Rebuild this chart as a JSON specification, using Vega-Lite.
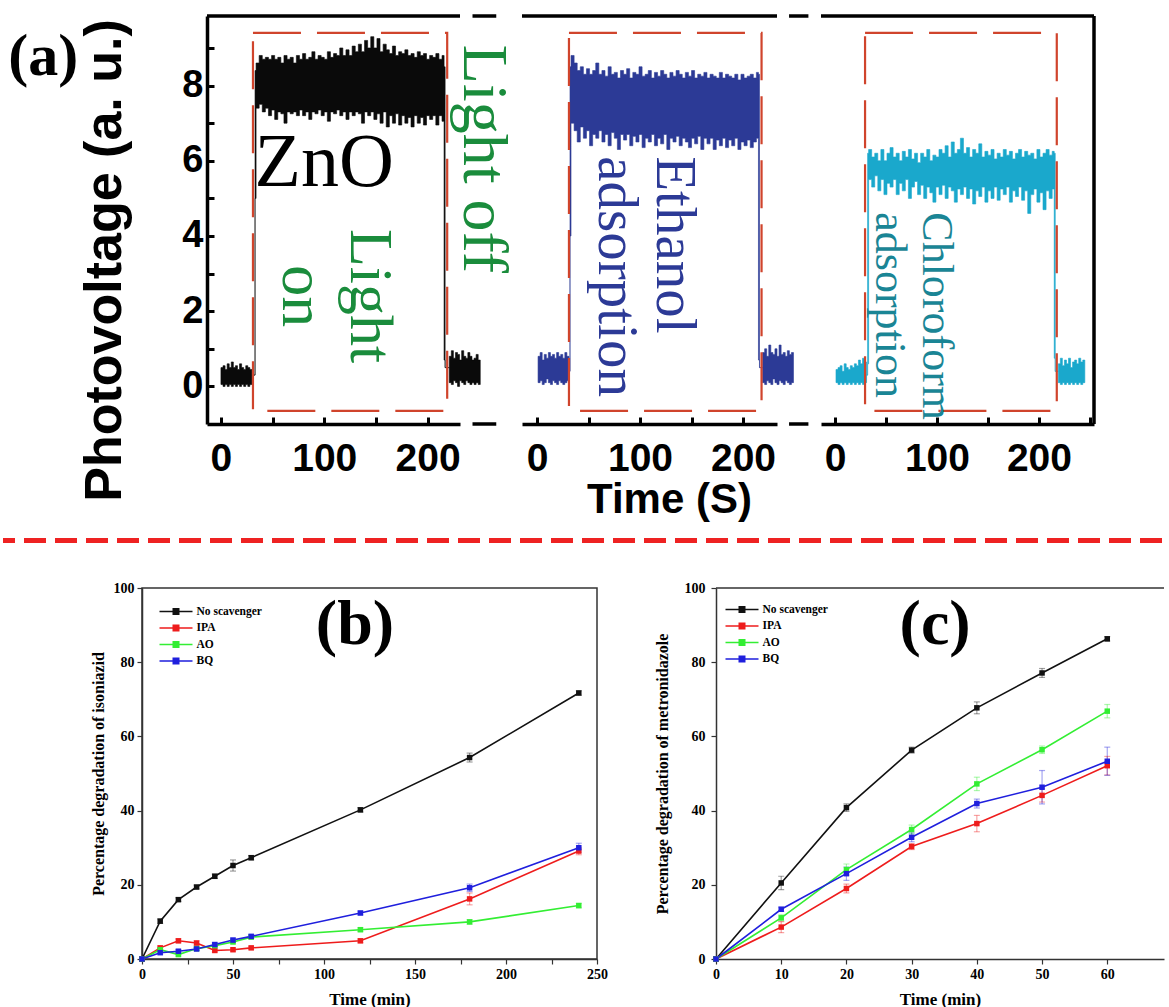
{
  "$schema": "https://vega.github.io/schema/vega-lite/v6.json",
  "padding": {"left": 0, "top": 14, "right": 0, "bottom": 0},
  "background": "white",
  "config": {"view": {"stroke": null}, "axis": {"grid": false}},
  "datasets": {
    "zno": [
      {"t":0,"lo":0.05,"hi":0.5},{"t":2,"lo":0.0,"hi":0.55},{"t":4,"lo":0.05,"hi":0.45},{"t":6,"lo":0.0,"hi":0.6},{"t":8,"lo":0.05,"hi":0.5},{"t":10,"lo":0.0,"hi":0.65},{"t":12,"lo":0.05,"hi":0.5},{"t":14,"lo":0.0,"hi":0.55},{"t":16,"lo":0.05,"hi":0.45},{"t":18,"lo":0.0,"hi":0.6},{"t":20,"lo":0.05,"hi":0.5},{"t":22,"lo":0.0,"hi":0.45},{"t":24,"lo":0.05,"hi":0.55},{"t":26,"lo":0.0,"hi":0.5},{"t":28,"lo":0.05,"hi":0.45},{"t":30,"lo":0.3,"hi":0.3},
      {"t":33,"lo":5.0,"hi":8.4},
      {"t":34,"lo":7.4,"hi":8.6},{"t":37,"lo":7.5,"hi":8.8},{"t":40,"lo":7.3,"hi":8.7},{"t":43,"lo":7.4,"hi":8.75},{"t":46,"lo":7.2,"hi":8.7},{"t":49,"lo":7.35,"hi":8.8},{"t":52,"lo":7.1,"hi":8.7},{"t":55,"lo":7.3,"hi":8.75},{"t":58,"lo":7.25,"hi":8.6},{"t":61,"lo":7.0,"hi":8.8},{"t":64,"lo":7.3,"hi":8.7},{"t":67,"lo":7.25,"hi":8.75},{"t":70,"lo":7.3,"hi":8.6},{"t":73,"lo":7.2,"hi":8.8},{"t":76,"lo":7.35,"hi":8.7},{"t":79,"lo":7.2,"hi":8.85},{"t":82,"lo":7.3,"hi":8.7},{"t":85,"lo":7.1,"hi":8.75},{"t":88,"lo":7.3,"hi":8.9},{"t":91,"lo":7.25,"hi":8.7},{"t":94,"lo":7.35,"hi":8.8},{"t":97,"lo":7.2,"hi":8.75},{"t":100,"lo":7.3,"hi":8.7},{"t":103,"lo":7.05,"hi":8.9},{"t":106,"lo":7.3,"hi":8.75},{"t":109,"lo":7.25,"hi":8.85},{"t":112,"lo":7.35,"hi":8.8},{"t":115,"lo":7.2,"hi":9.0},{"t":118,"lo":7.3,"hi":8.8},{"t":121,"lo":7.1,"hi":8.95},{"t":124,"lo":7.3,"hi":8.8},{"t":127,"lo":7.2,"hi":9.05},{"t":130,"lo":7.3,"hi":8.9},{"t":133,"lo":7.25,"hi":9.1},{"t":136,"lo":7.0,"hi":8.9},{"t":139,"lo":7.3,"hi":9.2},{"t":142,"lo":7.2,"hi":9.0},{"t":145,"lo":7.3,"hi":9.3},{"t":148,"lo":7.1,"hi":9.0},{"t":151,"lo":7.25,"hi":9.25},{"t":154,"lo":7.0,"hi":8.9},{"t":157,"lo":7.3,"hi":9.1},{"t":160,"lo":6.9,"hi":8.95},{"t":163,"lo":7.2,"hi":8.85},{"t":166,"lo":7.0,"hi":9.05},{"t":169,"lo":7.25,"hi":8.8},{"t":172,"lo":6.95,"hi":8.9},{"t":175,"lo":7.2,"hi":8.85},{"t":178,"lo":7.0,"hi":8.95},{"t":181,"lo":7.15,"hi":8.8},{"t":184,"lo":6.9,"hi":8.85},{"t":187,"lo":7.2,"hi":8.75},{"t":190,"lo":7.0,"hi":8.9},{"t":193,"lo":7.15,"hi":8.8},{"t":196,"lo":6.95,"hi":8.85},{"t":199,"lo":7.2,"hi":8.7},{"t":202,"lo":7.1,"hi":8.8},{"t":205,"lo":7.2,"hi":8.75},{"t":208,"lo":6.95,"hi":8.85},{"t":211,"lo":7.2,"hi":8.7},{"t":214,"lo":7.05,"hi":8.8},
      {"t":216,"lo":0.7,"hi":8.5},{"t":217,"lo":0.5,"hi":0.5},
      {"t":221,"lo":0.1,"hi":0.8},{"t":223,"lo":0.05,"hi":0.95},{"t":225,"lo":0.15,"hi":0.75},{"t":227,"lo":0.1,"hi":0.9},{"t":229,"lo":0.0,"hi":0.85},{"t":231,"lo":0.15,"hi":0.7},{"t":233,"lo":0.1,"hi":0.95},{"t":235,"lo":0.05,"hi":0.8},{"t":237,"lo":0.15,"hi":0.75},{"t":239,"lo":0.1,"hi":0.9},{"t":241,"lo":0.05,"hi":0.8},{"t":243,"lo":0.1,"hi":0.7},{"t":245,"lo":0.05,"hi":0.75},{"t":247,"lo":0.1,"hi":0.85},{"t":249,"lo":0.05,"hi":0.7},{"t":251,"lo":0.05,"hi":0.7}
    ],
    "eth": [
      {"t":1,"lo":0.1,"hi":0.8},{"t":3,"lo":0.15,"hi":0.9},{"t":5,"lo":0.05,"hi":0.7},{"t":7,"lo":0.1,"hi":0.85},{"t":9,"lo":0.2,"hi":0.75},{"t":11,"lo":0.1,"hi":0.9},{"t":13,"lo":0.05,"hi":0.8},{"t":15,"lo":0.15,"hi":0.85},{"t":17,"lo":0.1,"hi":0.75},{"t":19,"lo":0.05,"hi":0.9},{"t":21,"lo":0.15,"hi":0.8},{"t":23,"lo":0.1,"hi":0.85},{"t":25,"lo":0.05,"hi":0.75},{"t":27,"lo":0.1,"hi":0.9},{"t":29,"lo":0.15,"hi":0.8},{"t":31,"lo":0.4,"hi":0.4},
      {"t":32,"lo":4.0,"hi":8.5},
      {"t":33,"lo":7.0,"hi":8.8},{"t":36,"lo":6.8,"hi":8.6},{"t":39,"lo":6.5,"hi":8.4},{"t":42,"lo":6.9,"hi":8.5},{"t":45,"lo":6.6,"hi":8.3},{"t":48,"lo":6.8,"hi":8.45},{"t":51,"lo":6.4,"hi":8.3},{"t":54,"lo":6.7,"hi":8.4},{"t":57,"lo":6.6,"hi":8.6},{"t":60,"lo":6.8,"hi":8.3},{"t":63,"lo":6.5,"hi":8.4},{"t":66,"lo":6.7,"hi":8.25},{"t":69,"lo":6.4,"hi":8.5},{"t":72,"lo":6.75,"hi":8.3},{"t":75,"lo":6.6,"hi":8.35},{"t":78,"lo":6.3,"hi":8.2},{"t":81,"lo":6.7,"hi":8.4},{"t":84,"lo":6.55,"hi":8.3},{"t":87,"lo":6.7,"hi":8.45},{"t":90,"lo":6.4,"hi":8.2},{"t":93,"lo":6.65,"hi":8.35},{"t":96,"lo":6.5,"hi":8.3},{"t":99,"lo":6.7,"hi":8.5},{"t":102,"lo":6.35,"hi":8.25},{"t":105,"lo":6.6,"hi":8.3},{"t":108,"lo":6.5,"hi":8.4},{"t":111,"lo":6.7,"hi":8.2},{"t":114,"lo":6.4,"hi":8.35},{"t":117,"lo":6.6,"hi":8.25},{"t":120,"lo":6.45,"hi":8.4},{"t":123,"lo":6.7,"hi":8.3},{"t":126,"lo":6.3,"hi":8.2},{"t":129,"lo":6.6,"hi":8.35},{"t":132,"lo":6.5,"hi":8.25},{"t":135,"lo":6.65,"hi":8.4},{"t":138,"lo":6.4,"hi":8.3},{"t":141,"lo":6.6,"hi":8.2},{"t":144,"lo":6.5,"hi":8.35},{"t":147,"lo":6.35,"hi":8.25},{"t":150,"lo":6.6,"hi":8.4},{"t":153,"lo":6.45,"hi":8.2},{"t":156,"lo":6.65,"hi":8.3},{"t":159,"lo":6.3,"hi":8.25},{"t":162,"lo":6.6,"hi":8.35},{"t":165,"lo":6.45,"hi":8.2},{"t":168,"lo":6.6,"hi":8.3},{"t":171,"lo":6.3,"hi":8.25},{"t":174,"lo":6.55,"hi":8.2},{"t":177,"lo":6.4,"hi":8.35},{"t":180,"lo":6.6,"hi":8.2},{"t":183,"lo":6.35,"hi":8.3},{"t":186,"lo":6.55,"hi":8.25},{"t":189,"lo":6.4,"hi":8.2},{"t":192,"lo":6.6,"hi":8.3},{"t":195,"lo":6.3,"hi":8.15},{"t":198,"lo":6.5,"hi":8.3},{"t":201,"lo":6.4,"hi":8.2},{"t":204,"lo":6.55,"hi":8.25},{"t":207,"lo":6.35,"hi":8.3},{"t":210,"lo":6.5,"hi":8.2},{"t":213,"lo":6.6,"hi":8.35},
      {"t":215,"lo":0.7,"hi":8.3},{"t":216,"lo":0.5,"hi":0.5},
      {"t":219,"lo":0.1,"hi":0.9},{"t":221,"lo":0.05,"hi":1.0},{"t":223,"lo":0.15,"hi":0.8},{"t":225,"lo":0.1,"hi":1.1},{"t":227,"lo":0.05,"hi":0.9},{"t":229,"lo":0.2,"hi":0.85},{"t":231,"lo":0.1,"hi":1.0},{"t":233,"lo":0.05,"hi":0.8},{"t":235,"lo":0.15,"hi":1.1},{"t":237,"lo":0.1,"hi":0.85},{"t":239,"lo":0.05,"hi":0.9},{"t":241,"lo":0.15,"hi":0.8},{"t":243,"lo":0.1,"hi":0.95},{"t":245,"lo":0.05,"hi":0.85},{"t":247,"lo":0.1,"hi":0.9},{"t":249,"lo":0.1,"hi":0.9}
    ],
    "chl": [
      {"t":1,"lo":0.1,"hi":0.45},{"t":3,"lo":0.05,"hi":0.5},{"t":5,"lo":0.1,"hi":0.55},{"t":7,"lo":0.05,"hi":0.4},{"t":9,"lo":0.1,"hi":0.6},{"t":11,"lo":0.05,"hi":0.5},{"t":13,"lo":0.1,"hi":0.45},{"t":15,"lo":0.05,"hi":0.55},{"t":17,"lo":0.1,"hi":0.5},{"t":19,"lo":0.05,"hi":0.6},{"t":21,"lo":0.1,"hi":0.55},{"t":23,"lo":0.05,"hi":0.7},{"t":25,"lo":0.1,"hi":0.6},{"t":27,"lo":0.05,"hi":0.75},{"t":29,"lo":0.1,"hi":0.65},{"t":31,"lo":0.3,"hi":0.3},
      {"t":32,"lo":0.6,"hi":6.2},
      {"t":33,"lo":5.5,"hi":6.3},{"t":36,"lo":5.3,"hi":6.1},{"t":39,"lo":5.6,"hi":6.2},{"t":42,"lo":5.2,"hi":6.0},{"t":45,"lo":5.5,"hi":6.3},{"t":48,"lo":5.1,"hi":6.0},{"t":51,"lo":5.4,"hi":6.2},{"t":54,"lo":5.3,"hi":6.35},{"t":57,"lo":5.5,"hi":6.1},{"t":60,"lo":5.1,"hi":6.2},{"t":63,"lo":5.4,"hi":6.0},{"t":66,"lo":5.2,"hi":6.25},{"t":69,"lo":5.5,"hi":6.1},{"t":72,"lo":5.0,"hi":6.3},{"t":75,"lo":5.3,"hi":6.05},{"t":78,"lo":5.45,"hi":6.2},{"t":81,"lo":5.1,"hi":5.95},{"t":84,"lo":5.35,"hi":6.2},{"t":87,"lo":5.0,"hi":6.1},{"t":90,"lo":5.3,"hi":6.3},{"t":93,"lo":5.15,"hi":6.0},{"t":96,"lo":4.9,"hi":6.15},{"t":99,"lo":5.3,"hi":6.1},{"t":102,"lo":5.1,"hi":6.3},{"t":105,"lo":5.35,"hi":6.2},{"t":108,"lo":5.0,"hi":6.4},{"t":111,"lo":5.3,"hi":6.1},{"t":114,"lo":5.2,"hi":6.5},{"t":117,"lo":4.9,"hi":6.2},{"t":120,"lo":5.25,"hi":6.3},{"t":123,"lo":5.1,"hi":6.6},{"t":126,"lo":5.3,"hi":6.2},{"t":129,"lo":5.0,"hi":6.35},{"t":132,"lo":5.25,"hi":6.1},{"t":135,"lo":4.85,"hi":6.3},{"t":138,"lo":5.2,"hi":6.2},{"t":141,"lo":5.05,"hi":6.45},{"t":144,"lo":5.3,"hi":6.1},{"t":147,"lo":4.9,"hi":6.25},{"t":150,"lo":5.2,"hi":6.15},{"t":153,"lo":5.0,"hi":6.3},{"t":156,"lo":5.3,"hi":6.05},{"t":159,"lo":4.95,"hi":6.2},{"t":162,"lo":5.25,"hi":6.1},{"t":165,"lo":5.1,"hi":6.3},{"t":168,"lo":5.3,"hi":6.15},{"t":171,"lo":4.9,"hi":6.25},{"t":174,"lo":5.2,"hi":6.05},{"t":177,"lo":5.05,"hi":6.2},{"t":180,"lo":5.3,"hi":6.3},{"t":183,"lo":4.95,"hi":6.1},{"t":186,"lo":5.2,"hi":6.25},{"t":189,"lo":4.6,"hi":6.15},{"t":192,"lo":5.1,"hi":6.2},{"t":195,"lo":5.25,"hi":6.05},{"t":198,"lo":4.9,"hi":6.3},{"t":201,"lo":5.15,"hi":6.1},{"t":204,"lo":4.7,"hi":6.2},{"t":207,"lo":5.2,"hi":6.3},{"t":210,"lo":5.0,"hi":6.15},{"t":213,"lo":5.25,"hi":6.25},
      {"t":215,"lo":0.75,"hi":6.2},{"t":216,"lo":0.4,"hi":0.4},
      {"t":219,"lo":0.1,"hi":0.6},{"t":221,"lo":0.05,"hi":0.75},{"t":223,"lo":0.1,"hi":0.55},{"t":225,"lo":0.05,"hi":0.7},{"t":227,"lo":0.1,"hi":0.6},{"t":229,"lo":0.05,"hi":0.75},{"t":231,"lo":0.1,"hi":0.5},{"t":233,"lo":0.05,"hi":0.65},{"t":235,"lo":0.1,"hi":0.7},{"t":237,"lo":0.05,"hi":0.6},{"t":239,"lo":0.1,"hi":0.75},{"t":241,"lo":0.05,"hi":0.65},{"t":243,"lo":0.1,"hi":0.7},{"t":245,"lo":0.1,"hi":0.7}
    ],
    "iso": [
      {"time":0,"series":"No scavenger","v":0,"e":0},{"time":10,"series":"No scavenger","v":10.2,"e":0.6},{"time":20,"series":"No scavenger","v":16.0,"e":0.5},{"time":30,"series":"No scavenger","v":19.4,"e":0.5},{"time":40,"series":"No scavenger","v":22.3,"e":0.6},{"time":50,"series":"No scavenger","v":25.2,"e":1.5},{"time":60,"series":"No scavenger","v":27.3,"e":0.6},{"time":120,"series":"No scavenger","v":40.2,"e":0.6},{"time":180,"series":"No scavenger","v":54.3,"e":1.2},{"time":240,"series":"No scavenger","v":71.7,"e":0.6},
      {"time":0,"series":"IPA","v":0,"e":0},{"time":10,"series":"IPA","v":3.0,"e":0.5},{"time":20,"series":"IPA","v":4.9,"e":0.5},{"time":30,"series":"IPA","v":4.3,"e":0.6},{"time":40,"series":"IPA","v":2.3,"e":0.4},{"time":50,"series":"IPA","v":2.5,"e":0.4},{"time":60,"series":"IPA","v":3.0,"e":0.4},{"time":120,"series":"IPA","v":4.9,"e":0.5},{"time":180,"series":"IPA","v":16.2,"e":1.6},{"time":240,"series":"IPA","v":29.1,"e":1.0},
      {"time":0,"series":"AO","v":0,"e":0},{"time":10,"series":"AO","v":2.5,"e":0.5},{"time":20,"series":"AO","v":1.2,"e":0.4},{"time":30,"series":"AO","v":2.8,"e":0.4},{"time":40,"series":"AO","v":3.6,"e":0.4},{"time":50,"series":"AO","v":4.6,"e":0.5},{"time":60,"series":"AO","v":5.9,"e":0.4},{"time":120,"series":"AO","v":7.9,"e":0.5},{"time":180,"series":"AO","v":10.0,"e":0.6},{"time":240,"series":"AO","v":14.4,"e":0.6},
      {"time":0,"series":"BQ","v":0,"e":0},{"time":10,"series":"BQ","v":1.7,"e":0.4},{"time":20,"series":"BQ","v":2.1,"e":0.4},{"time":30,"series":"BQ","v":2.7,"e":0.4},{"time":40,"series":"BQ","v":3.9,"e":0.5},{"time":50,"series":"BQ","v":5.1,"e":0.5},{"time":60,"series":"BQ","v":6.1,"e":0.5},{"time":120,"series":"BQ","v":12.4,"e":0.5},{"time":180,"series":"BQ","v":19.2,"e":1.0},{"time":240,"series":"BQ","v":30.0,"e":1.2}
    ],
    "met": [
      {"time":0,"series":"No scavenger","v":0,"e":0},{"time":10,"series":"No scavenger","v":20.5,"e":1.8},{"time":20,"series":"No scavenger","v":40.8,"e":1.0},{"time":30,"series":"No scavenger","v":56.3,"e":0.8},{"time":40,"series":"No scavenger","v":67.7,"e":1.6},{"time":50,"series":"No scavenger","v":77.1,"e":1.2},{"time":60,"series":"No scavenger","v":86.3,"e":0.6},
      {"time":0,"series":"IPA","v":0,"e":0},{"time":10,"series":"IPA","v":8.6,"e":1.5},{"time":20,"series":"IPA","v":19.0,"e":1.2},{"time":30,"series":"IPA","v":30.3,"e":0.8},{"time":40,"series":"IPA","v":36.5,"e":2.2},{"time":50,"series":"IPA","v":44.1,"e":1.8},{"time":60,"series":"IPA","v":52.1,"e":2.5},
      {"time":0,"series":"AO","v":0,"e":0},{"time":10,"series":"AO","v":11.1,"e":0.8},{"time":20,"series":"AO","v":24.1,"e":1.5},{"time":30,"series":"AO","v":34.9,"e":1.2},{"time":40,"series":"AO","v":47.2,"e":1.8},{"time":50,"series":"AO","v":56.4,"e":1.0},{"time":60,"series":"AO","v":66.8,"e":1.8},
      {"time":0,"series":"BQ","v":0,"e":0},{"time":10,"series":"BQ","v":13.4,"e":0.6},{"time":20,"series":"BQ","v":23.0,"e":1.8},{"time":30,"series":"BQ","v":32.8,"e":1.2},{"time":40,"series":"BQ","v":41.9,"e":1.2},{"time":50,"series":"BQ","v":46.3,"e":4.5},{"time":60,"series":"BQ","v":53.3,"e":3.8}
    ]
  },
  "spacing": 0,
  "vconcat": [
    {
      "bounds": "flush",
      "spacing": 0,
      "hconcat": [
        {"width": 204, "height": 408, "data": {"values": [{}]}, "mark": {"type": "text", "text": ""}, "encoding": {}},
        {
          "width": 253, "height": 408,
          "layer": [
            {
              "data": {"name": "zno"},
              "mark": {"type": "area", "interpolate": "step-after", "color": "#0a0a0a", "stroke": "#0a0a0a", "strokeWidth": 0.6},
              "encoding": {
                "x": {"field": "t", "type": "quantitative", "scale": {"domain": [-13.5, 231.4], "nice": false, "zero": false},
                  "axis": {"values": [0, 50, 100, 150, 200], "labelExpr": "datum.value % 100 === 0 ? datum.label : ''", "title": null,
                    "domainColor": "#000", "domainWidth": 3.5, "tickColor": "#000", "tickWidth": 3, "tickSize": -7,
                    "labelFont": "Liberation Sans", "labelFontWeight": "bold", "labelFontSize": 39, "labelColor": "#000", "labelPadding": 22, "labelOverlap": false, "labelFlush": false}},
                "y": {"field": "hi", "type": "quantitative", "scale": {"domain": [-1, 9.85], "nice": false, "zero": false},
                  "axis": {"values": [0, 1, 2, 3, 4, 5, 6, 7, 8, 9], "labelExpr": "datum.value % 2 === 0 ? datum.label : ''",
                    "title": "Photovoltage (a. u.)", "titleFont": "Liberation Sans", "titleFontWeight": "bold", "titleFontSize": 52, "titleColor": "#000",
                    "titleX": -103, "titleY": 244, "titleAngle": -90, "titleAlign": "center", "titleBaseline": "middle",
                    "domainColor": "#000", "domainWidth": 3.5, "tickColor": "#000", "tickWidth": 3, "tickSize": -7,
                    "labelFont": "Liberation Sans", "labelFontWeight": "bold", "labelFontSize": 38, "labelColor": "#000", "labelPadding": 11, "labelOverlap": false, "labelFlush": false}},
                "y2": {"field": "lo"}
              }
            },
            {
              "data": {"values": [{"on": 31, "off": 219}]},
              "mark": {"type": "rect", "filled": false, "fill": null, "stroke": "#d0442c", "strokeWidth": 2.2, "strokeDash": [48, 16]},
              "encoding": {
                "x": {"field": "on", "type": "quantitative", "scale": {"domain": [-13.5, 231.4], "nice": false, "zero": false}},
                "x2": {"field": "off"},
                "y": {"datum": -0.65, "type": "quantitative", "scale": {"domain": [-1, 9.85], "nice": false, "zero": false}},
                "y2": {"datum": 9.4}
              }
            },
            {
              "data": {"values": [{}]},
              "mark": {"type": "rule", "color": "#000", "strokeWidth": 3.5},
              "encoding": {"y": {"datum": 9.85, "type": "quantitative", "scale": {"domain": [-1, 9.85], "nice": false, "zero": false}}}
            },
            {
              "data": {"values": [{}]},
              "mark": {"type": "rule", "color": "#000", "strokeWidth": 3.5},
              "encoding": {
                "x": {"datum": 243.5, "type": "quantitative", "scale": {"domain": [-13.5, 231.4], "nice": false, "zero": false}},
                "x2": {"datum": 266.5},
                "y": {"datum": 9.85, "type": "quantitative", "scale": {"domain": [-1, 9.85], "nice": false, "zero": false}}
              }
            },
            {
              "data": {"values": [{}]},
              "mark": {"type": "rule", "color": "#000", "strokeWidth": 3.5},
              "encoding": {
                "x": {"datum": 243.5, "type": "quantitative", "scale": {"domain": [-13.5, 231.4], "nice": false, "zero": false}},
                "x2": {"datum": 266.5},
                "y": {"datum": -1, "type": "quantitative", "scale": {"domain": [-1, 9.85], "nice": false, "zero": false}}
              }
            },
            {
              "data": {"values": [{}]},
              "mark": {"type": "text", "text": "(a)", "font": "Liberation Serif", "fontWeight": "bold", "fontSize": 60, "color": "#000", "align": "center", "baseline": "middle"},
              "encoding": {
                "x": {"datum": -172, "type": "quantitative", "scale": {"domain": [-13.5, 231.4], "nice": false, "zero": false}},
                "y": {"datum": 8.75, "type": "quantitative", "scale": {"domain": [-1, 9.85], "nice": false, "zero": false}}
              }
            },
            {
              "data": {"values": [{}]},
              "mark": {"type": "text", "text": "ZnO", "font": "Liberation Serif", "fontSize": 76, "color": "#000", "align": "center", "baseline": "middle"},
              "encoding": {
                "x": {"datum": 100, "type": "quantitative", "scale": {"domain": [-13.5, 231.4], "nice": false, "zero": false}},
                "y": {"datum": 5.93, "type": "quantitative", "scale": {"domain": [-1, 9.85], "nice": false, "zero": false}}
              }
            },
            {
              "data": {"values": [{}]},
              "mark": {"type": "text", "text": ["Light", "on"], "font": "Liberation Serif", "fontSize": 62, "lineHeight": 68, "color": "#1a8c3c", "align": "center", "baseline": "middle", "angle": 90},
              "encoding": {
                "x": {"datum": 144, "type": "quantitative", "scale": {"domain": [-13.5, 231.4], "nice": false, "zero": false}},
                "y": {"datum": 2.4, "type": "quantitative", "scale": {"domain": [-1, 9.85], "nice": false, "zero": false}}
              }
            },
            {
              "data": {"values": [{}]},
              "mark": {"type": "text", "text": "Light off", "font": "Liberation Serif", "fontSize": 64, "color": "#1a8c3c", "align": "center", "baseline": "middle", "angle": 90},
              "encoding": {
                "x": {"datum": 254, "type": "quantitative", "scale": {"domain": [-13.5, 231.4], "nice": false, "zero": false}},
                "y": {"datum": 6.05, "type": "quantitative", "scale": {"domain": [-1, 9.85], "nice": false, "zero": false}}
              }
            }
          ]
        },
        {"width": 62, "height": 408, "data": {"values": [{}]}, "mark": {"type": "text", "text": ""}, "encoding": {}},
        {
          "width": 255, "height": 408,
          "layer": [
            {
              "data": {"name": "eth"},
              "mark": {"type": "area", "interpolate": "step-after", "color": "#2c3a96", "stroke": "#2c3a96", "strokeWidth": 0.6},
              "encoding": {
                "x": {"field": "t", "type": "quantitative", "scale": {"domain": [-14.6, 233], "nice": false, "zero": false},
                  "axis": {"values": [0, 50, 100, 150, 200], "labelExpr": "datum.value % 100 === 0 ? datum.label : ''",
                    "title": "Time (S)", "titleFont": "Liberation Sans", "titleFontWeight": "bold", "titleFontSize": 42, "titleColor": "#000",
                    "titleX": 147, "titleY": 75, "titleAlign": "center", "titleBaseline": "middle",
                    "domainColor": "#000", "domainWidth": 3.5, "tickColor": "#000", "tickWidth": 3, "tickSize": -7,
                    "labelFont": "Liberation Sans", "labelFontWeight": "bold", "labelFontSize": 39, "labelColor": "#000", "labelPadding": 22, "labelOverlap": false, "labelFlush": false}},
                "y": {"field": "hi", "type": "quantitative", "scale": {"domain": [-1, 9.85], "nice": false, "zero": false}, "axis": null},
                "y2": {"field": "lo"}
              }
            },
            {
              "data": {"values": [{"on": 31, "off": 218}]},
              "mark": {"type": "rect", "filled": false, "fill": null, "stroke": "#d0442c", "strokeWidth": 2.2, "strokeDash": [48, 16]},
              "encoding": {
                "x": {"field": "on", "type": "quantitative", "scale": {"domain": [-14.6, 233], "nice": false, "zero": false}},
                "x2": {"field": "off"},
                "y": {"datum": -0.65, "type": "quantitative", "scale": {"domain": [-1, 9.85], "nice": false, "zero": false}, "axis": null},
                "y2": {"datum": 9.4}
              }
            },
            {
              "data": {"values": [{}]},
              "mark": {"type": "rule", "color": "#000", "strokeWidth": 3.5},
              "encoding": {"y": {"datum": 9.85, "type": "quantitative", "scale": {"domain": [-1, 9.85], "nice": false, "zero": false}, "axis": null}}
            },
            {
              "data": {"values": [{}]},
              "mark": {"type": "rule", "color": "#000", "strokeWidth": 3.5},
              "encoding": {
                "x": {"datum": 244.7, "type": "quantitative", "scale": {"domain": [-14.6, 233], "nice": false, "zero": false}},
                "x2": {"datum": 263.5},
                "y": {"datum": 9.85, "type": "quantitative", "scale": {"domain": [-1, 9.85], "nice": false, "zero": false}, "axis": null}
              }
            },
            {
              "data": {"values": [{}]},
              "mark": {"type": "rule", "color": "#000", "strokeWidth": 3.5},
              "encoding": {
                "x": {"datum": 244.7, "type": "quantitative", "scale": {"domain": [-14.6, 233], "nice": false, "zero": false}},
                "x2": {"datum": 263.5},
                "y": {"datum": -1, "type": "quantitative", "scale": {"domain": [-1, 9.85], "nice": false, "zero": false}, "axis": null}
              }
            },
            {
              "data": {"values": [{}]},
              "mark": {"type": "text", "text": ["Ethanol", "adsorption"], "font": "Liberation Serif", "fontSize": 57, "lineHeight": 58, "color": "#2c3a96", "align": "left", "baseline": "middle", "angle": 90},
              "encoding": {
                "x": {"datum": 133, "type": "quantitative", "scale": {"domain": [-14.6, 233], "nice": false, "zero": false}},
                "y": {"datum": 6.12, "type": "quantitative", "scale": {"domain": [-1, 9.85], "nice": false, "zero": false}, "axis": null}
              }
            }
          ]
        },
        {"width": 44, "height": 408, "data": {"values": [{}]}, "mark": {"type": "text", "text": ""}, "encoding": {}},
        {
          "width": 273, "height": 408,
          "layer": [
            {
              "data": {"name": "chl"},
              "mark": {"type": "area", "interpolate": "step-after", "color": "#1aa8cc", "stroke": "#1aa8cc", "strokeWidth": 0.6},
              "encoding": {
                "x": {"field": "t", "type": "quantitative", "scale": {"domain": [-13.7, 254], "nice": false, "zero": false},
                  "axis": {"values": [0, 50, 100, 150, 200, 250], "labelExpr": "datum.value % 100 === 0 ? datum.label : ''", "title": null,
                    "domainColor": "#000", "domainWidth": 3.5, "tickColor": "#000", "tickWidth": 3, "tickSize": -7,
                    "labelFont": "Liberation Sans", "labelFontWeight": "bold", "labelFontSize": 39, "labelColor": "#000", "labelPadding": 22, "labelOverlap": false, "labelFlush": false}},
                "y": {"field": "hi", "type": "quantitative", "scale": {"domain": [-1, 9.85], "nice": false, "zero": false}, "axis": null},
                "y2": {"field": "lo"}
              }
            },
            {
              "data": {"values": [{"on": 29.5, "off": 217.5}]},
              "mark": {"type": "rect", "filled": false, "fill": null, "stroke": "#d0442c", "strokeWidth": 2.2, "strokeDash": [48, 16]},
              "encoding": {
                "x": {"field": "on", "type": "quantitative", "scale": {"domain": [-13.7, 254], "nice": false, "zero": false}},
                "x2": {"field": "off"},
                "y": {"datum": -0.65, "type": "quantitative", "scale": {"domain": [-1, 9.85], "nice": false, "zero": false}, "axis": null},
                "y2": {"datum": 9.4}
              }
            },
            {
              "data": {"values": [{}]},
              "mark": {"type": "rule", "color": "#000", "strokeWidth": 3.5},
              "encoding": {"y": {"datum": 9.85, "type": "quantitative", "scale": {"domain": [-1, 9.85], "nice": false, "zero": false}, "axis": null}}
            },
            {
              "data": {"values": [{}]},
              "mark": {"type": "rule", "color": "#000", "strokeWidth": 3.5},
              "encoding": {"x": {"datum": 254, "type": "quantitative", "scale": {"domain": [-13.7, 254], "nice": false, "zero": false}}}
            },
            {
              "data": {"values": [{}]},
              "mark": {"type": "text", "text": ["Chloroform", "adsorption"], "font": "Liberation Serif", "fontSize": 44, "lineHeight": 47, "color": "#1a8595", "align": "left", "baseline": "middle", "angle": 90},
              "encoding": {
                "x": {"datum": 99, "type": "quantitative", "scale": {"domain": [-13.7, 254], "nice": false, "zero": false}},
                "y": {"datum": 4.63, "type": "quantitative", "scale": {"domain": [-1, 9.85], "nice": false, "zero": false}, "axis": null}
              }
            }
          ]
        }
      ]
    },
    {
      "width": 1159, "height": 59.5,
      "data": {"values": [{}]},
      "mark": {"type": "rule", "color": "#ee2222", "strokeWidth": 5, "strokeDash": [22, 9]},
      "encoding": {"y": {"datum": 0.655, "type": "quantitative", "scale": {"domain": [0, 1], "nice": false, "zero": false}, "axis": null}}
    },
    {
      "bounds": "flush",
      "spacing": 0,
      "resolve": {"legend": {"color": "independent"}},
      "hconcat": [
        {"width": 139, "height": 371, "data": {"values": [{}]}, "mark": {"type": "text", "text": ""}, "encoding": {}},
        {
          "width": 455, "height": 371,
          "view": {"stroke": "#333", "strokeWidth": 1.5},
          "layer": [
            {
              "data": {"name": "iso"},
              "mark": {"type": "errorbar", "ticks": {"size": 6}, "opacity": 0.4, "thickness": 1.2},
              "encoding": {
                "x": {"field": "time", "type": "quantitative", "scale": {"domain": [0, 250], "nice": false},
                  "axis": {"values": [0, 25, 50, 75, 100, 125, 150, 175, 200, 225, 250], "labelExpr": "datum.value % 50 === 0 ? datum.label : ''",
                    "title": "Time (min)", "titleFont": "Liberation Serif", "titleFontWeight": "bold", "titleFontSize": 17, "titleColor": "#000", "titlePadding": 10,
                    "labelFont": "Liberation Serif", "labelFontWeight": "bold", "labelFontSize": 14, "labelColor": "#000", "labelPadding": 3, "labelOverlap": false, "labelFlush": false,
                    "tickSize": 5, "tickColor": "#333", "tickWidth": 1.2, "domainColor": "#333", "domainWidth": 1.5}},
                "y": {"field": "v", "type": "quantitative", "scale": {"domain": [0, 100], "nice": false},
                  "axis": {"values": [0, 10, 20, 30, 40, 50, 60, 70, 80, 90, 100], "labelExpr": "datum.value % 20 === 0 ? datum.label : ''",
                    "title": "Percentage degradation of isoniazid", "titleFont": "Liberation Serif", "titleFontWeight": "bold", "titleFontSize": 16, "titleColor": "#000", "titlePadding": 7,
                    "labelFont": "Liberation Serif", "labelFontWeight": "bold", "labelFontSize": 14, "labelColor": "#000", "labelPadding": 3, "labelOverlap": false, "labelFlush": false,
                    "tickSize": 5, "tickColor": "#333", "tickWidth": 1.2, "domainColor": "#333", "domainWidth": 1.5}},
                "yError": {"field": "e"},
                "color": {"field": "series", "type": "nominal",
                  "scale": {"domain": ["No scavenger", "IPA", "AO", "BQ"], "range": ["#111111", "#ee1c1c", "#33ee33", "#1f1fdd"]},
                  "legend": {"title": null, "orient": "none", "legendX": 27.5, "legendY": 17, "padding": 0,
                    "symbolType": "M-3,0H3M-0.5,-0.5H0.5V0.5H-0.5Z", "symbolSize": 121, "symbolStrokeWidth": 1.5, "symbolOpacity": 1,
                    "labelFont": "Liberation Serif", "labelFontWeight": "bold", "labelFontSize": 11.5, "labelColor": "#000", "labelOffset": 14, "rowPadding": 3.5,
                    "encode": {"symbols": {"update": {"fill": {"scale": "color", "field": "value"}, "stroke": {"scale": "color", "field": "value"}, "opacity": {"value": 1}}}}}}
              }
            },
            {
              "data": {"name": "iso"},
              "mark": {"type": "line", "strokeWidth": 1.6},
              "encoding": {
                "x": {"field": "time", "type": "quantitative", "scale": {"domain": [0, 250], "nice": false}},
                "y": {"field": "v", "type": "quantitative", "scale": {"domain": [0, 100], "nice": false}},
                "color": {"field": "series", "type": "nominal", "scale": {"domain": ["No scavenger", "IPA", "AO", "BQ"], "range": ["#111111", "#ee1c1c", "#33ee33", "#1f1fdd"]}}
              }
            },
            {
              "data": {"name": "iso"},
              "mark": {"type": "point", "shape": "square", "filled": true, "size": 30, "opacity": 1},
              "encoding": {
                "x": {"field": "time", "type": "quantitative", "scale": {"domain": [0, 250], "nice": false}},
                "y": {"field": "v", "type": "quantitative", "scale": {"domain": [0, 100], "nice": false}},
                "color": {"field": "series", "type": "nominal", "scale": {"domain": ["No scavenger", "IPA", "AO", "BQ"], "range": ["#111111", "#ee1c1c", "#33ee33", "#1f1fdd"]}}
              }
            },
            {
              "data": {"values": [{}]},
              "mark": {"type": "text", "text": "(b)", "font": "Liberation Serif", "fontWeight": "bold", "fontSize": 64, "align": "center", "baseline": "middle", "color": "#000"},
              "encoding": {
                "x": {"datum": 117, "type": "quantitative", "scale": {"domain": [0, 250], "nice": false}},
                "y": {"datum": 90, "type": "quantitative", "scale": {"domain": [0, 100], "nice": false}}
              }
            }
          ]
        },
        {"width": 119, "height": 371, "data": {"values": [{}]}, "mark": {"type": "text", "text": ""}, "encoding": {}},
        {
          "width": 448, "height": 371,
          "layer": [
            {
              "data": {"name": "met"},
              "mark": {"type": "errorbar", "ticks": {"size": 6}, "opacity": 0.4, "thickness": 1.2},
              "encoding": {
                "x": {"field": "time", "type": "quantitative", "scale": {"domain": [0, 68.7], "nice": false},
                  "axis": {"values": [0, 5, 10, 15, 20, 25, 30, 35, 40, 45, 50, 55, 60, 65], "labelExpr": "datum.value % 10 === 0 ? datum.label : ''",
                    "title": "Time (min)", "titleFont": "Liberation Serif", "titleFontWeight": "bold", "titleFontSize": 17, "titleColor": "#000", "titlePadding": 10,
                    "labelFont": "Liberation Serif", "labelFontWeight": "bold", "labelFontSize": 14, "labelColor": "#000", "labelPadding": 3, "labelOverlap": false, "labelFlush": false,
                    "tickSize": 5, "tickColor": "#333", "tickWidth": 1.2, "domainColor": "#333", "domainWidth": 1.5}},
                "y": {"field": "v", "type": "quantitative", "scale": {"domain": [0, 100], "nice": false},
                  "axis": {"values": [0, 10, 20, 30, 40, 50, 60, 70, 80, 90, 100], "labelExpr": "datum.value % 20 === 0 ? datum.label : ''",
                    "title": "Percentage degradation of metronidazole", "titleFont": "Liberation Serif", "titleFontWeight": "bold", "titleFontSize": 16, "titleColor": "#000", "titlePadding": 14,
                    "labelFont": "Liberation Serif", "labelFontWeight": "bold", "labelFontSize": 14, "labelColor": "#000", "labelPadding": 6, "labelOverlap": false, "labelFlush": false,
                    "tickSize": 5, "tickColor": "#333", "tickWidth": 1.2, "domainColor": "#333", "domainWidth": 1.5}},
                "yError": {"field": "e"},
                "color": {"field": "series", "type": "nominal",
                  "scale": {"domain": ["No scavenger", "IPA", "AO", "BQ"], "range": ["#111111", "#ee1c1c", "#33ee33", "#1f1fdd"]},
                  "legend": {"title": null, "orient": "none", "legendX": 19.5, "legendY": 15, "padding": 0,
                    "symbolType": "M-3,0H3M-0.5,-0.5H0.5V0.5H-0.5Z", "symbolSize": 121, "symbolStrokeWidth": 1.5, "symbolOpacity": 1,
                    "labelFont": "Liberation Serif", "labelFontWeight": "bold", "labelFontSize": 11.5, "labelColor": "#000", "labelOffset": 14, "rowPadding": 3.5,
                    "encode": {"symbols": {"update": {"fill": {"scale": "color", "field": "value"}, "stroke": {"scale": "color", "field": "value"}, "opacity": {"value": 1}}}}}}
              }
            },
            {
              "data": {"name": "met"},
              "mark": {"type": "line", "strokeWidth": 1.6},
              "encoding": {
                "x": {"field": "time", "type": "quantitative", "scale": {"domain": [0, 68.7], "nice": false}},
                "y": {"field": "v", "type": "quantitative", "scale": {"domain": [0, 100], "nice": false}},
                "color": {"field": "series", "type": "nominal", "scale": {"domain": ["No scavenger", "IPA", "AO", "BQ"], "range": ["#111111", "#ee1c1c", "#33ee33", "#1f1fdd"]}}
              }
            },
            {
              "data": {"name": "met"},
              "mark": {"type": "point", "shape": "square", "filled": true, "size": 30, "opacity": 1},
              "encoding": {
                "x": {"field": "time", "type": "quantitative", "scale": {"domain": [0, 68.7], "nice": false}},
                "y": {"field": "v", "type": "quantitative", "scale": {"domain": [0, 100], "nice": false}},
                "color": {"field": "series", "type": "nominal", "scale": {"domain": ["No scavenger", "IPA", "AO", "BQ"], "range": ["#111111", "#ee1c1c", "#33ee33", "#1f1fdd"]}}
              }
            },
            {
              "data": {"values": [{}]},
              "mark": {"type": "rule", "color": "#333", "strokeWidth": 1.5},
              "encoding": {"y": {"datum": 100, "type": "quantitative", "scale": {"domain": [0, 100], "nice": false}}}
            },
            {
              "data": {"values": [{}]},
              "mark": {"type": "text", "text": "(c)", "font": "Liberation Serif", "fontWeight": "bold", "fontSize": 64, "align": "center", "baseline": "middle", "color": "#000"},
              "encoding": {
                "x": {"datum": 33.6, "type": "quantitative", "scale": {"domain": [0, 68.7], "nice": false}},
                "y": {"datum": 90, "type": "quantitative", "scale": {"domain": [0, 100], "nice": false}}
              }
            }
          ]
        }
      ]
    }
  ]
}
